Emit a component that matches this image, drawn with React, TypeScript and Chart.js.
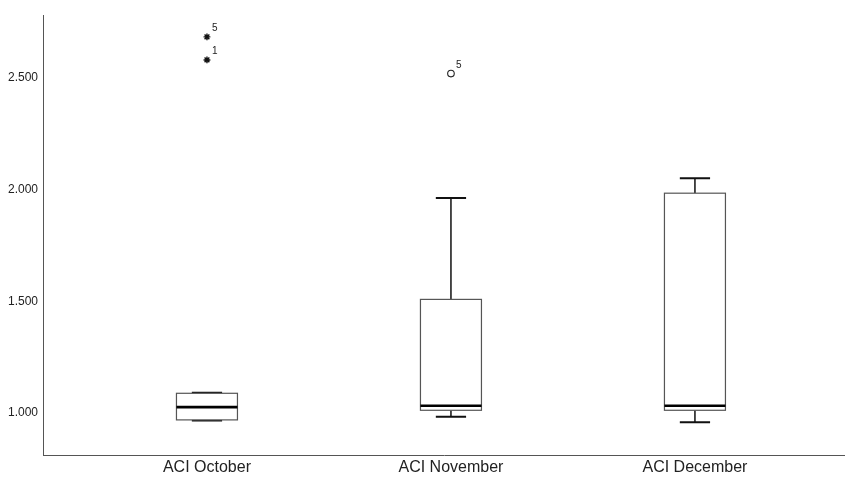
import React, { useEffect, useRef } from "react";
import { Chart, registerables } from "chart.js";

Chart.register(...registerables);

// ---- data ----
const categories = ["ACI October", "ACI November", "ACI December"];
const whiskerLow = [0.958, 0.975, 0.951];
const q1 = [0.961, 1.004, 1.004];
const median = [1.018, 1.024, 1.024];
const q3 = [1.080, 1.500, 1.975];
const whiskerHigh = [1.082, 1.953, 2.042];

// extreme values (stars) and outliers (circles): category position, value, case label
const extremeCat = [1, 1];
const extremeVal = [2.674, 2.571];
const extremeLbl = ["5", "1"];
const outlierCat = [2];
const outlierVal = [2.510];
const outlierLbl = ["5"];

const yTicks = [1.0, 1.5, 2.0, 2.5];

const BOX_HALF = 0.125;
const CAP_HALF = 0.062;

const boxPlugin = {
  id: "boxPlugin",
  afterDatasetsDraw(chart: any) {
    const { ctx, scales } = chart;
    const xs = scales.x;
    const ys = scales.y;
    ctx.save();
    categories.forEach((_, i) => {
      const c = i + 1;
      const xl = xs.getPixelForValue(c - BOX_HALF);
      const xr = xs.getPixelForValue(c + BOX_HALF);
      const xc = xs.getPixelForValue(c);
      const cl = xs.getPixelForValue(c - CAP_HALF);
      const cr = xs.getPixelForValue(c + CAP_HALF);
      const yq1 = ys.getPixelForValue(q1[i]);
      const yq3 = ys.getPixelForValue(q3[i]);
      const ymed = ys.getPixelForValue(median[i]);
      const ylo = ys.getPixelForValue(whiskerLow[i]);
      const yhi = ys.getPixelForValue(whiskerHigh[i]);

      // whiskers
      ctx.strokeStyle = "#111";
      ctx.lineWidth = 1.5;
      ctx.beginPath();
      ctx.moveTo(xc, yq3);
      ctx.lineTo(xc, yhi);
      ctx.moveTo(xc, yq1);
      ctx.lineTo(xc, ylo);
      ctx.stroke();
      // caps
      ctx.lineWidth = 2;
      ctx.beginPath();
      ctx.moveTo(cl, yhi);
      ctx.lineTo(cr, yhi);
      ctx.moveTo(cl, ylo);
      ctx.lineTo(cr, ylo);
      ctx.stroke();
      // box
      ctx.fillStyle = "#ffffff";
      ctx.fillRect(xl, yq3, xr - xl, yq1 - yq3);
      ctx.strokeStyle = "#555";
      ctx.lineWidth = 1.2;
      ctx.strokeRect(xl, yq3, xr - xl, yq1 - yq3);
      // median
      ctx.strokeStyle = "#000";
      ctx.lineWidth = 2.6;
      ctx.beginPath();
      ctx.moveTo(xl, ymed);
      ctx.lineTo(xr, ymed);
      ctx.stroke();
    });

    // case labels next to outliers
    ctx.fillStyle = "#222";
    ctx.font = "10px 'Liberation Sans', Arial, sans-serif";
    ctx.textAlign = "left";
    ctx.textBaseline = "middle";
    extremeVal.forEach((v, i) => {
      const px = xs.getPixelForValue(extremeCat[i]);
      const py = ys.getPixelForValue(v);
      ctx.fillText(extremeLbl[i], px + 5, py - 9);
    });
    outlierVal.forEach((v, i) => {
      const px = xs.getPixelForValue(outlierCat[i]);
      const py = ys.getPixelForValue(v);
      ctx.fillText(outlierLbl[i], px + 5, py - 8);
    });
    ctx.restore();
  },
};

export default function App() {
  const ref = useRef<HTMLCanvasElement | null>(null);
  useEffect(() => {
    document.body.style.margin = "0";
    if (!ref.current) return;
    const chart = new Chart(ref.current, {
      type: "scatter",
      data: {
        datasets: [
          {
            label: "extreme",
            data: extremeVal.map((v, i) => ({ x: extremeCat[i], y: v })),
            pointStyle: "star",
            radius: 3.4,
            borderColor: "#111",
            backgroundColor: "#111",
            borderWidth: 1.4,
          },
          {
            label: "outlier",
            data: outlierVal.map((v, i) => ({ x: outlierCat[i], y: v })),
            pointStyle: "circle",
            radius: 3.3,
            borderColor: "#222",
            backgroundColor: "rgba(255,255,255,0)",
            borderWidth: 1.1,
          },
        ],
      },
      options: {
        responsive: false,
        animation: false,
        devicePixelRatio: 1,
        layout: { autoPadding: false, padding: { top: 15, right: 0, left: 0, bottom: 0 } },
        plugins: {
          legend: { display: false },
          tooltip: { enabled: false },
        },
        scales: {
          x: {
            type: "linear",
            min: 0.328,
            max: 3.615,
            grid: { display: false, drawTicks: false },
            border: { display: true, color: "#555", width: 1 },
            afterFit: (s: any) => {
              s.height = 24;
              s.paddingLeft = 0;
              s.paddingRight = 0;
            },
            afterBuildTicks: (s: any) => {
              s.ticks = categories.map((_, i) => ({ value: i + 1 }));
            },
            ticks: {
              includeBounds: false,
              autoSkip: false,
              maxRotation: 0,
              padding: 3,
              color: "#222",
              font: { family: "'Liberation Sans', Arial, sans-serif", size: 16 },
              callback: (v: any) => categories[Math.round(Number(v)) - 1] ?? "",
            },
          },
          y: {
            type: "linear",
            min: 0.804,
            max: 2.772,
            grid: { display: false, drawTicks: false },
            border: { display: true, color: "#555", width: 1 },
            afterFit: (s: any) => {
              s.width = 43;
            },
            afterBuildTicks: (s: any) => {
              s.ticks = yTicks.map((v) => ({ value: v }));
            },
            ticks: {
              includeBounds: false,
              padding: 5,
              labelOffset: 2,
              color: "#222",
              font: { family: "'Liberation Sans', Arial, sans-serif", size: 12 },
              callback: (v: any) => Number(v).toFixed(3),
            },
          },
        },
      },
      plugins: [boxPlugin],
    });
    return () => chart.destroy();
  }, []);
  return (
    <div style={{ width: 845, height: 479 }}>
      <canvas ref={ref} width={845} height={479} style={{ width: 845, height: 479, display: "block" }} />
    </div>
  );
}
